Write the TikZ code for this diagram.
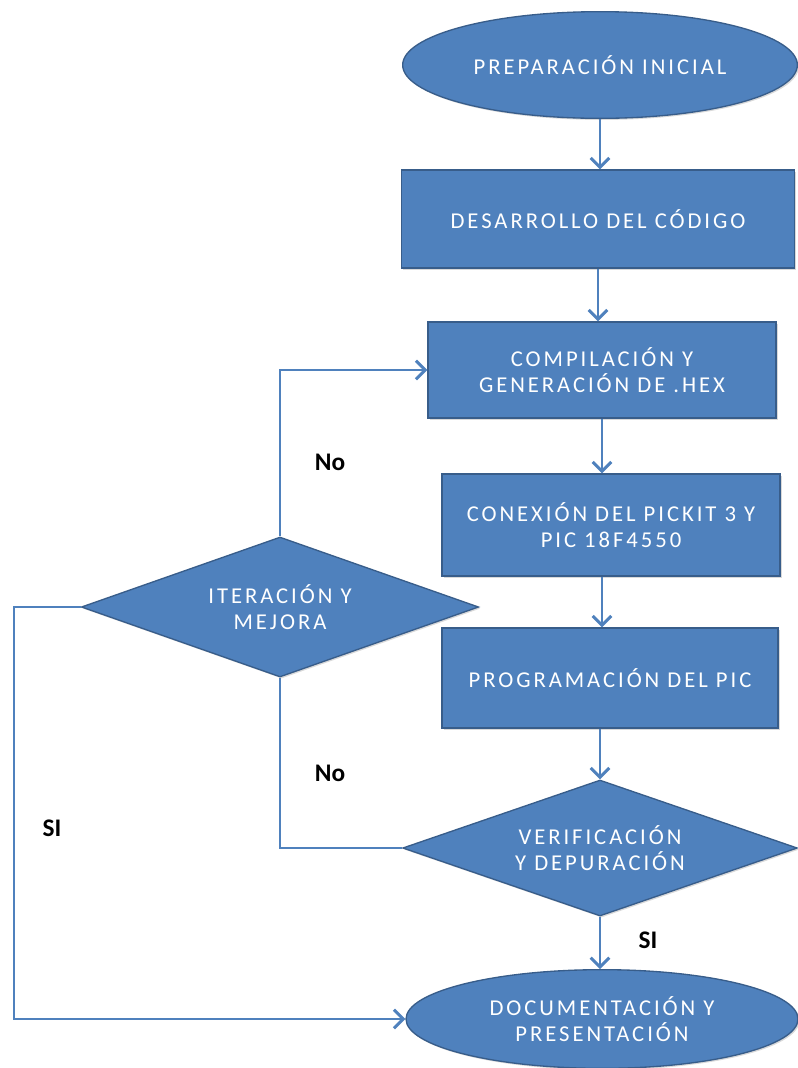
\documentclass[tikz,border=0pt]{standalone}
\usepackage{fontspec}
\setmainfont{Carlito}
\newfontfamily\shapefont[LetterSpace=13]{Carlito}
\usetikzlibrary{positioning,shapes.geometric,arrows.meta,shadows}
\definecolor{ofblue}{HTML}{4F81BD}
\definecolor{ofedge}{HTML}{385D8A}

\begin{document}
\begin{tikzpicture}[x=0.75pt,y=-0.75pt,
  base/.style={draw=ofedge,line width=1pt,fill=ofblue,text=white,align=center,inner sep=0pt,
    font=\shapefont\fontsize{17}{19.5}\selectfont,
    drop shadow={opacity=.3,shadow xshift=1.2pt,shadow yshift=-1.2pt}},
  term/.style={base,ellipse},
  proc/.style={base,rectangle},
  decision/.style={base,diamond,aspect=2.9},
  flow/.style={draw=ofblue,line width=2.2pt,-{Straight Barb[length=7pt,width=14pt]}},
  link/.style={draw=ofblue,line width=2.2pt},
  lbl/.style={font=\bfseries\fontsize{19}{21}\selectfont}]
  \useasboundingbox (0,0) rectangle (798,1068);

  % main column
  \node[term,minimum width=296pt,minimum height=80pt] (ini) at (600,65) {PREPARACIÓN INICIAL};
  \node[proc,minimum width=295pt,minimum height=73.5pt] (des) at (598,219) {DESARROLLO DEL CÓDIGO};
  \node[proc,minimum width=261pt,minimum height=72pt] (comp) at (602,370) {COMPILACIÓN Y\\GENERACIÓN DE .HEX};
  \node[proc,minimum width=253.5pt,minimum height=76.5pt] (con) at (611,525) {CONEXIÓN DEL PICKIT 3 Y\\PIC 18F4550};
  \node[proc,minimum width=252pt,minimum height=75pt] (prog) at (610,678) {PROGRAMACIÓN DEL PIC};
  \node[decision,minimum width=296pt,minimum height=102pt] (ver) at (600,848) {VERIFICACIÓN\\Y DEPURACIÓN};
  \node[term,minimum width=294pt,minimum height=74pt] (doc) at (602,1019) {DOCUMENTACIÓN Y\\PRESENTACIÓN};

  % loop decision
  \node[decision,aspect=2.84,minimum width=298pt,minimum height=105pt] (it) at (280,607) {ITERACIÓN Y\\MEJORA};

  \draw[flow] (ini.south) -- (ini.south |- des.north);
  \draw[flow] (des.south) -- (des.south |- comp.north);
  \draw[flow] (comp.south) -- (comp.south |- con.north);
  \draw[flow] (con.south -| comp) -- (prog.north -| comp);
  \draw[flow] (prog.south -| ver.north) -- (ver.north);
  \draw[flow] (ver.south) -- (ver.south |- doc.north);

  \draw[flow] (it.north) |- (comp.west);
  \draw[link] (ver.west) -| (it.south);
  \coordinate (siX) at (14,607);
  \draw[flow] (it.west) -- (siX) |- (doc.west);

  \node[lbl] (no1) at (330,462) {No};
  \node[lbl] (no2) at (330,773) {No};
  \node[lbl] (si1) at (52,828) {SI};
  \node[lbl] (si2) at (648,940) {SI};
\end{tikzpicture}
\end{document}
